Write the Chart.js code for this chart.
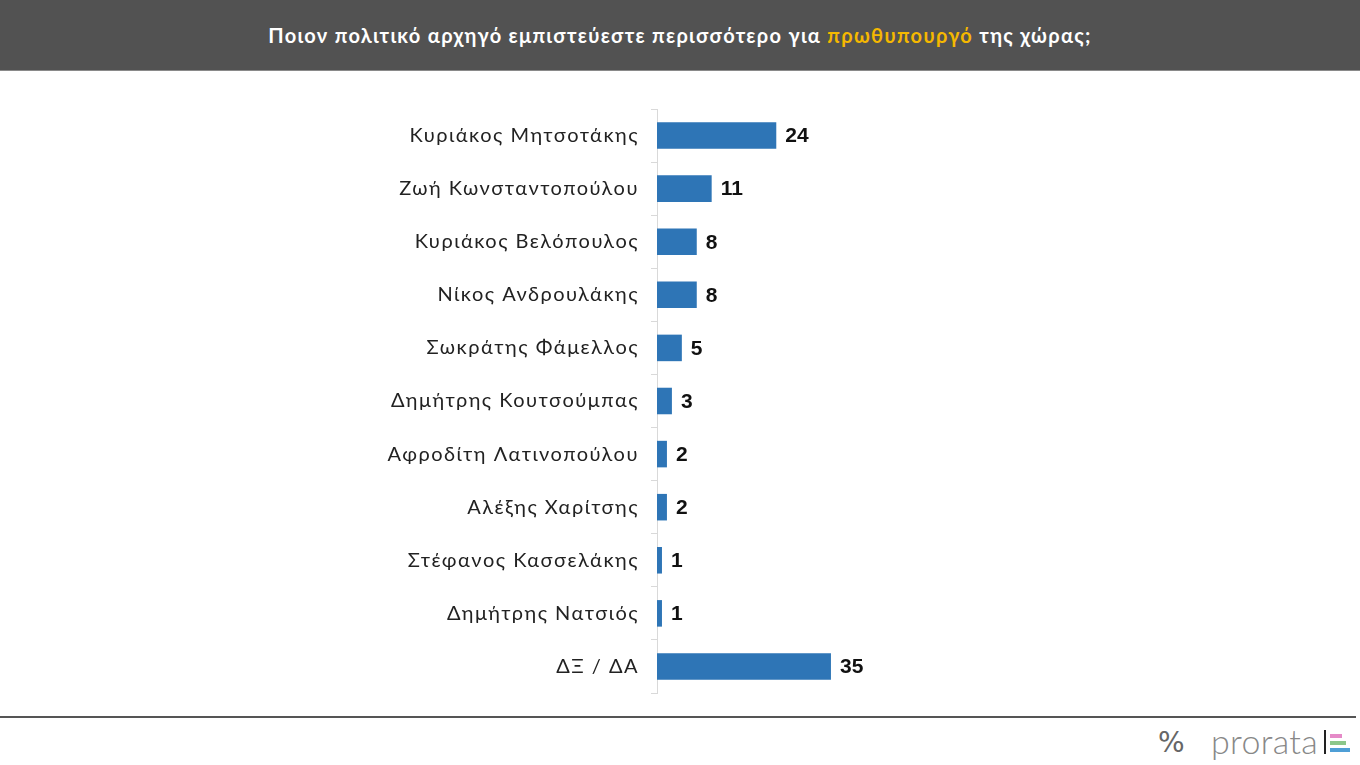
<!DOCTYPE html>
<html>
<head>
<meta charset="utf-8">
<script src="https://cdn.jsdelivr.net/npm/chart.js@4"></script>
<style>
  body { margin: 0; width: 1360px; height: 765px; background: #fff; position: relative; overflow: hidden; font-family: Lato, sans-serif; }
  #header { position: absolute; left: 0; top: 0; width: 1360px; height: 70px; background: #525252; border-bottom: 1px solid #8a8a8a;
    color: #fff; font: bold 20px Lato, sans-serif; text-align: center; line-height: 70px; letter-spacing: 1.3px; }
  #header span { color: #f5b800; }
  #wrap { position: absolute; left: 0; top: 85px; width: 1360px; height: 632px; }
  #rule { position: absolute; left: 0; top: 716px; width: 1356px; height: 2px; background: #555; }
  #logo { position: absolute; left: 1158px; top: 722px; height: 40px; color: #777; }
  #logo .pct { position: absolute; left: 0; top: 4px; font: 28px "DejaVu Sans", sans-serif; color: #666; }
  #logo .name { position: absolute; left: 53px; top: -2px; font: 300 34px Lato, sans-serif; color: #888; letter-spacing: 0.3px; }
  #logo .bar { position: absolute; left: 166px; top: 8px; width: 2px; height: 24px; background: #222; }
  #logo .c { position: absolute; left: 172px; height: 4px; }
</style>
</head>
<body>
<div id="header">Ποιον πολιτικό αρχηγό εμπιστεύεστε περισσότερο για <span>πρωθυπουργό</span> της χώρας;</div>
<div id="wrap"><canvas id="chart"></canvas></div>
<div id="rule"></div>
<div id="logo">
  <div class="pct">%</div>
  <div class="name">prorata</div>
  <div class="bar"></div>
  <div class="c" style="top:12px;width:12px;background:#e58ac8"></div>
  <div class="c" style="top:19px;width:16px;background:#8cc78a"></div>
  <div class="c" style="top:26px;width:20px;background:#4f9fd6"></div>
</div>
<script>
const categories = ['Κυριάκος Μητσοτάκης', 'Ζωή Κωνσταντοπούλου', 'Κυριάκος Βελόπουλος', 'Νίκος Ανδρουλάκης',
  'Σωκράτης Φάμελλος', 'Δημήτρης Κουτσούμπας', 'Αφροδίτη Λατινοπούλου', 'Αλέξης Χαρίτσης',
  'Στέφανος Κασσελάκης', 'Δημήτρης Νατσιός', 'ΔΞ / ΔΑ'];
const values = [24, 11, 8, 8, 5, 3, 2, 2, 1, 1, 35];

// wider spacing for the category names (Century Gothic look)
const spacing = {
  id: 'spacing',
  beforeDraw(chart) { chart.ctx.letterSpacing = '1.5px'; },
  beforeDatasetsDraw(chart) { chart.ctx.letterSpacing = '0px'; }
};

// value labels at the end of each bar
const valueLabels = {
  id: 'valueLabels',
  afterDatasetsDraw(chart) {
    const ctx = chart.ctx;
    ctx.save();
    ctx.letterSpacing = '0px';
    ctx.font = 'bold 21px "Liberation Sans", Arial, sans-serif';
    ctx.fillStyle = '#111';
    ctx.textAlign = 'left';
    ctx.textBaseline = 'middle';
    chart.getDatasetMeta(0).data.forEach((bar, i) => {
      ctx.fillText(values[i], bar.x + 9, bar.y + 1);
    });
    ctx.restore();
  }
};

new Chart(document.getElementById('chart'), {
  type: 'bar',
  data: {
    labels: categories,
    datasets: [{ data: values, backgroundColor: '#2e75b6', barPercentage: 0.5, categoryPercentage: 1 }]
  },
  options: {
    indexAxis: 'y',
    responsive: true,
    maintainAspectRatio: false,
    animation: false,
    layout: { padding: { left: 0, right: 206, top: 0, bottom: 0 } },
    plugins: { legend: { display: false }, tooltip: { enabled: false } },
    scales: {
      x: { display: false, min: 0, max: 100 },
      y: {
        afterFit(scale) { scale.width = 657; },
        border: { color: '#d9d9d9', width: 1 },
        grid: { drawOnChartArea: false, drawTicks: true, tickLength: 6, color: '#d9d9d9', offset: true },
        ticks: { color: '#222', padding: 12, font: { family: 'Lato', size: 20 } }
      }
    }
  },
  plugins: [spacing, valueLabels]
});
</script>
</body>
</html>
